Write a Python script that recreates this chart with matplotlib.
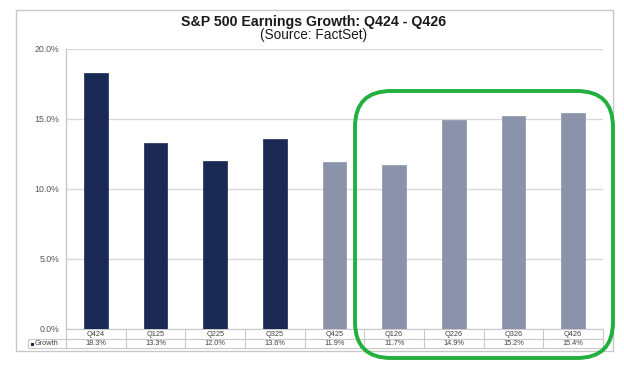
import matplotlib
matplotlib.use("Agg")
import matplotlib.pyplot as plt
from matplotlib.patches import Rectangle, FancyBboxPatch
import numpy as np

plt.rcParams['font.family'] = ['Liberation Sans', 'DejaVu Sans']

categories = ["Q424", "Q125", "Q225", "Q325", "Q425", "Q126", "Q226", "Q326", "Q426"]
growth = [18.3, 13.3, 12.0, 13.6, 11.9, 11.7, 14.9, 15.2, 15.4]
growth_labels = ["18.3%", "13.3%", "12.0%", "13.6%", "11.9%", "11.7%", "14.9%", "15.2%", "15.4%"]
actual_count = 4
yticks = [0, 5, 10, 15, 20]
ytick_labels = ["0.0%", "5.0%", "10.0%", "15.0%", "20.0%"]

W, H = 624, 365
fig = plt.figure(figsize=(W / 100, H / 100), dpi=100)
fig.patch.set_facecolor("white")

def px(x, y):
    return (x / 100.0, (H - y) / 100.0)

# outer border
x0, y0 = px(16, 351)
fig.patches.append(Rectangle((x0, y0), (613 - 16) / 100, (351 - 10) / 100,
                             transform=fig.dpi_scale_trans, fill=False,
                             edgecolor="#c8c8c8", lw=1.0, zorder=0))

L, R, T, B = 66, 603, 49, 329
ax = fig.add_axes([L / W, 1 - B / H, (R - L) / W, (B - T) / H])
n = len(categories)
x = np.arange(n)
dark = "#1b2a55"
light = "#8a93aa"
colors = [dark if i < actual_count else light for i in range(n)]
ax.bar(x, growth, width=0.40, color=colors, edgecolor=colors, lw=0.5, zorder=3)
ax.set_xlim(-0.5, n - 0.5)
ax.set_ylim(0, 20)
ax.set_yticks(yticks)
ax.set_yticklabels(ytick_labels, fontsize=6.3, color="#595959")
ax.tick_params(axis="y", length=0, pad=5)
ax.set_xticks([])
ax.grid(axis="y", color="#d9d9d9", lw=1.0, zorder=0)
for s in ["top", "right", "bottom"]:
    ax.spines[s].set_visible(False)
ax.spines["left"].set_color("#c8c8c8")
ax.spines["left"].set_linewidth(1.0)

# data table below the axis
tr = ax.get_xaxis_transform()
axh = B - T
r1 = -10.0 / axh
r2 = -19.0 / axh
lc = "#c8c8c8"
ax.plot([-0.5, n - 0.5], [0, 0], transform=tr, color=lc, lw=0.8, clip_on=False)
ax.plot([-0.5, n - 0.5], [r1, r1], transform=tr, color=lc, lw=0.8, clip_on=False)
ax.plot([-0.5, n - 0.5], [r2, r2], transform=tr, color=lc, lw=0.8, clip_on=False)
for i in range(n + 1):
    ax.plot([i - 0.5, i - 0.5], [0, r2], transform=tr, color=lc, lw=0.8, clip_on=False)
for i in range(n):
    ax.text(x[i], r1 / 2, categories[i], transform=tr, ha="center", va="center",
            fontsize=5.3, color="#404040")
    ax.text(x[i], (r1 + r2) / 2, growth_labels[i], transform=tr, ha="center", va="center",
            fontsize=5.3, color="#404040")

# legend cell of the table
lx0, ly0 = px(28, 348)
fig.patches.append(Rectangle((lx0, ly0), (66 - 28) / 100, 9 / 100,
                             transform=fig.dpi_scale_trans, fill=False,
                             edgecolor=lc, lw=0.8, zorder=2))
sx, sy = px(31, 345.5)
fig.patches.append(Rectangle((sx, sy), 0.03, 0.03, transform=fig.dpi_scale_trans,
                             facecolor=dark, edgecolor=dark, lw=0))
fig.text(35 / W, 1 - 343.5 / H, "Growth", fontsize=5.3, color="#404040", va="center", ha="left")

# titles
fig.text(314 / W, 1 - 22 / H, "S&P 500 Earnings Growth: Q424 - Q426", fontsize=10.2,
         fontweight="bold", ha="center", va="center", color="#1a1a1a")
fig.text(314 / W, 1 - 34.5 / H, "(Source: FactSet)", fontsize=9.8,
         ha="center", va="center", color="#1a1a1a")

# green highlight
gx0, gy0 = px(355, 358)
gw = (613 - 355) / 100
gh = (358 - 91) / 100
rad = 0.36
fig.patches.append(FancyBboxPatch((gx0 + rad, gy0 + rad), gw - 2 * rad, gh - 2 * rad,
                                  boxstyle=f"round,pad={rad},rounding_size={rad}",
                                  transform=fig.dpi_scale_trans, fill=False,
                                  edgecolor="#22b03c", lw=2.8, zorder=10))

fig.savefig("out.png", dpi=100, facecolor="white")
